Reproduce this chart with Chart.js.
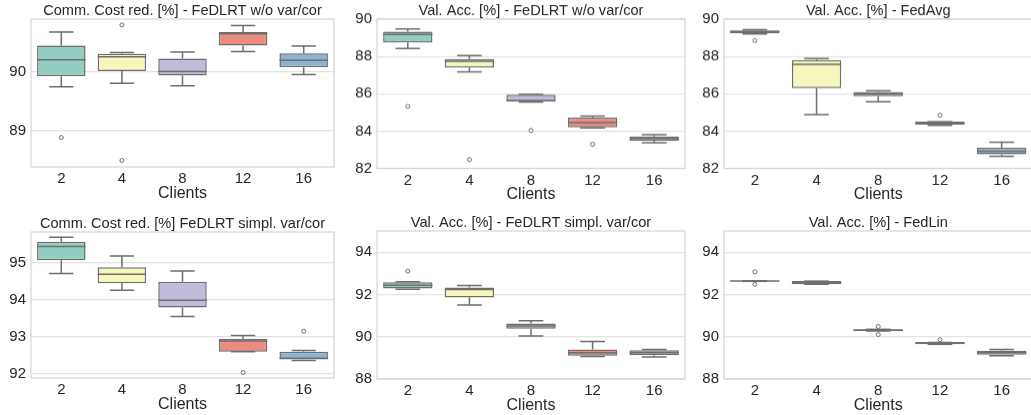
<!DOCTYPE html>
<html>
<head>
<meta charset="utf-8">
<script src="https://cdn.jsdelivr.net/npm/chart.js@4/dist/chart.umd.min.js"></script>
<style>
  html, body { margin: 0; padding: 0; background: #fff; overflow: hidden; }
  body { width: 1031px; height: 415px; position: relative; }
  .panel { position: absolute; }
</style>
</head>
<body>
<div class="panel" id="p1"><canvas id="c1"></canvas></div>
<div class="panel" id="p2"><canvas id="c2"></canvas></div>
<div class="panel" id="p3"><canvas id="c3"></canvas></div>
<div class="panel" id="p4"><canvas id="c4"></canvas></div>
<div class="panel" id="p5"><canvas id="c5"></canvas></div>
<div class="panel" id="p6"><canvas id="c6"></canvas></div>
<script>
var clients = ["2", "4", "8", "12", "16"];
var boxColors = ["#93cdc2", "#f7f7bd", "#bfbcd9", "#ec8b80", "#89b4d3"];
var lineColor = "#6e6e6e";

// Comm. Cost red. - FeDLRT w/o var/cor
var commNoVarLo  = [89.75, 89.81, 89.77, 90.35, 89.96];
var commNoVarQ1  = [89.93, 90.02, 89.94, 90.45, 90.08];
var commNoVarMed = [90.21, 90.26, 90.01, 90.65, 90.20];
var commNoVarQ3  = [90.45, 90.31, 90.23, 90.68, 90.32];
var commNoVarHi  = [90.68, 90.33, 90.34, 90.79, 90.44];
var commNoVarOut = [[88.89], [90.80, 88.50], [], [], []];
var commNoVarTicks = [89, 90];

// Val. Acc. - FeDLRT w/o var/cor
var accNoVarLo  = [88.42, 87.17, 85.55, 84.17, 83.37];
var accNoVarQ1  = [88.75, 87.40, 85.59, 84.19, 83.48];
var accNoVarMed = [89.18, 87.74, 85.62, 84.45, 83.60];
var accNoVarQ3  = [89.32, 87.86, 85.95, 84.72, 83.71];
var accNoVarHi  = [89.48, 88.05, 85.97, 84.80, 83.80];
var accNoVarOut = [[85.32], [82.47], [84.03], [83.29], []];

// Val. Acc. - FedAvg
var fedAvgLo  = [89.20, 84.88, 85.57, 84.30, 82.65];
var fedAvgQ1  = [89.25, 86.29, 85.86, 84.34, 82.76];
var fedAvgMed = [89.32, 87.58, 85.98, 84.42, 82.92];
var fedAvgQ3  = [89.39, 87.81, 86.09, 84.50, 83.10];
var fedAvgHi  = [89.43, 87.89, 86.16, 84.50, 83.40];
var fedAvgOut = [[88.85], [], [], [84.85], []];
var topAccTicks = [82, 84, 86, 88, 90];

// Comm. Cost red. - FeDLRT simpl. var/cor
var commSimplLo  = [94.70, 94.25, 93.54, 92.59, 92.35];
var commSimplQ1  = [95.06, 94.44, 93.78, 92.59, 92.38];
var commSimplMed = [95.43, 94.68, 93.98, 92.88, 92.41];
var commSimplQ3  = [95.56, 94.87, 94.48, 92.94, 92.59];
var commSimplHi  = [95.68, 95.17, 94.77, 93.03, 92.62];
var commSimplOut = [[], [], [], [92.03], [93.14]];
var commSimplTicks = [92, 93, 94, 95];

// Val. Acc. - FeDLRT simpl. var/cor
var accSimplLo  = [92.25, 91.50, 90.03, 89.07, 89.04];
var accSimplQ1  = [92.28, 91.85, 90.38, 89.10, 89.12];
var accSimplMed = [92.44, 92.23, 90.51, 89.24, 89.24];
var accSimplQ3  = [92.58, 92.33, 90.62, 89.40, 89.36];
var accSimplHi  = [92.60, 92.42, 90.76, 89.77, 89.40];
var accSimplOut = [[93.10], [], [], [], []];

// Val. Acc. - FedLin
var fedLinLo  = [92.62, 92.48, 90.27, 89.64, 89.10];
var fedLinQ1  = [92.62, 92.48, 90.27, 89.64, 89.15];
var fedLinMed = [92.63, 92.55, 90.30, 89.71, 89.25];
var fedLinQ3  = [92.64, 92.63, 90.35, 89.73, 89.34];
var fedLinHi  = [92.64, 92.63, 90.35, 89.73, 89.39];
var fedLinOut = [[93.07, 92.48], [], [90.48, 90.10], [89.86], []];
var bottomAccTicks = [88, 90, 92, 94];

var FONT = "'Liberation Sans', Arial, sans-serif";
var XAXIS_H = 36;

var panels = [
  { id: "c1", box: "p1", left: 0, top: 0, w: 306, h: 148,
    title: "Comm. Cost red. [%] - FeDLRT w/o var/cor",
    lo: commNoVarLo, q1: commNoVarQ1, med: commNoVarMed, q3: commNoVarQ3, hi: commNoVarHi, out: commNoVarOut,
    min: 88.39, max: 90.9, ticks: commNoVarTicks },
  { id: "c2", box: "p2", left: 346, top: 0, w: 311, h: 148.5,
    title: "Val. Acc. [%] - FeDLRT w/o var/cor",
    lo: accNoVarLo, q1: accNoVarQ1, med: accNoVarMed, q3: accNoVarQ3, hi: accNoVarHi, out: accNoVarOut,
    min: 82, max: 90, ticks: topAccTicks },
  { id: "c3", box: "p3", left: 692.5, top: 0, w: 311.5, h: 148.5,
    title: "Val. Acc. [%] - FedAvg",
    lo: fedAvgLo, q1: fedAvgQ1, med: fedAvgMed, q3: fedAvgQ3, hi: fedAvgHi, out: fedAvgOut,
    min: 82, max: 90, ticks: topAccTicks },
  { id: "c4", box: "p4", left: 0, top: 213, w: 306, h: 146,
    title: "Comm. Cost red. [%] FeDLRT simpl. var/cor",
    lo: commSimplLo, q1: commSimplQ1, med: commSimplMed, q3: commSimplQ3, hi: commSimplHi, out: commSimplOut,
    min: 91.88, max: 95.82, ticks: commSimplTicks },
  { id: "c5", box: "p5", left: 346, top: 212, w: 311, h: 148,
    title: "Val. Acc. [%] - FeDLRT simpl. var/cor",
    lo: accSimplLo, q1: accSimplQ1, med: accSimplMed, q3: accSimplQ3, hi: accSimplHi, out: accSimplOut,
    min: 88, max: 95, ticks: bottomAccTicks },
  { id: "c6", box: "p6", left: 692.5, top: 212, w: 311.5, h: 148,
    title: "Val. Acc. [%] - FedLin",
    lo: fedLinLo, q1: fedLinQ1, med: fedLinMed, q3: fedLinQ3, hi: fedLinHi, out: fedLinOut,
    min: 88, max: 95, ticks: bottomAccTicks }
];

var boxPlugin = {
  id: "boxParts",
  beforeDatasetsDraw: function (chart) {
    var p = chart.options.plugins.boxParts;
    var ctx = chart.ctx, y = chart.scales.y;
    var bars = chart.getDatasetMeta(0).data;
    ctx.save();
    ctx.strokeStyle = lineColor;
    ctx.lineWidth = 1.5;
    bars.forEach(function (bar, i) {
      var cx = bar.x, cap = bar.width / 4;
      [[p.q3[i], p.hi[i]], [p.q1[i], p.lo[i]]].forEach(function (seg) {
        var a = y.getPixelForValue(seg[0]), b = y.getPixelForValue(seg[1]);
        ctx.beginPath();
        ctx.moveTo(cx, a); ctx.lineTo(cx, b);
        ctx.moveTo(cx - cap, b); ctx.lineTo(cx + cap, b);
        ctx.stroke();
      });
    });
    ctx.restore();
  },
  afterDatasetsDraw: function (chart) {
    var p = chart.options.plugins.boxParts;
    var ctx = chart.ctx, y = chart.scales.y, area = chart.chartArea;
    var bars = chart.getDatasetMeta(0).data;
    ctx.save();
    ctx.strokeStyle = lineColor;
    ctx.lineWidth = 1.5;
    bars.forEach(function (bar, i) {
      var m = y.getPixelForValue(p.med[i]);
      ctx.beginPath();
      ctx.moveTo(bar.x - bar.width / 2, m);
      ctx.lineTo(bar.x + bar.width / 2, m);
      ctx.stroke();
    });
    ctx.strokeStyle = "#d4d4d4";
    ctx.lineWidth = 1.2;
    ctx.strokeRect(area.left, area.top, area.right - area.left, area.bottom - area.top);
    ctx.fillStyle = "#262626";
    ctx.font = "14.6px " + FONT;
    ctx.textAlign = "center";
    ctx.textBaseline = "bottom";
    ctx.fillText(p.title, (area.left + area.right) / 2, area.top - 1);
    ctx.restore();
  }
};

panels.forEach(function (p) {
  var div = document.getElementById(p.box);
  div.style.left = p.left + "px";
  div.style.top = p.top + "px";
  div.style.width = (p.w + 33) + "px";
  div.style.height = (p.h + 19 + XAXIS_H) + "px";

  var outPoints = [];
  p.out.forEach(function (vals, i) {
    vals.forEach(function (v) { outPoints.push({ x: clients[i], y: v }); });
  });

  new Chart(p.id, {
    type: "bar",
    data: {
      labels: clients,
      datasets: [
        {
          data: clients.map(function (c, i) { return [p.q1[i], p.q3[i]]; }),
          backgroundColor: boxColors,
          borderColor: lineColor,
          borderWidth: 1.5,
          borderSkipped: false,
          barPercentage: 0.8,
          categoryPercentage: 1.0
        },
        {
          type: "line",
          data: outPoints,
          showLine: false,
          pointRadius: 2,
          pointStyle: "circle",
          pointBackgroundColor: "#ffffff",
          pointBorderColor: lineColor,
          pointBorderWidth: 1
        }
      ]
    },
    options: {
      animation: false,
      responsive: true,
      maintainAspectRatio: false,
      layout: { padding: { top: 19, right: 2, left: 0, bottom: 0 } },
      scales: {
        x: {
          grid: { display: false, drawTicks: false },
          border: { display: false },
          ticks: { color: "#262626", padding: 3, font: { family: FONT, size: 15 } },
          title: { display: true, text: "Clients", color: "#262626", padding: { top: 0, bottom: 0 }, font: { family: FONT, size: 16 } },
          afterFit: function (s) { s.height = XAXIS_H; }
        },
        y: {
          min: p.min,
          max: p.max,
          grid: { color: "#e3e3e3", lineWidth: 1.2, drawTicks: false },
          border: { display: false },
          ticks: { color: "#262626", padding: 5, font: { family: FONT, size: 15 } },
          afterBuildTicks: function (s) { s.ticks = p.ticks.map(function (v) { return { value: v }; }); },
          afterFit: function (s) { s.width = 31; }
        }
      },
      plugins: {
        legend: { display: false },
        tooltip: { enabled: false },
        title: { display: false },
        boxParts: p
      }
    },
    plugins: [boxPlugin]
  });
});
</script>
</body>
</html>
